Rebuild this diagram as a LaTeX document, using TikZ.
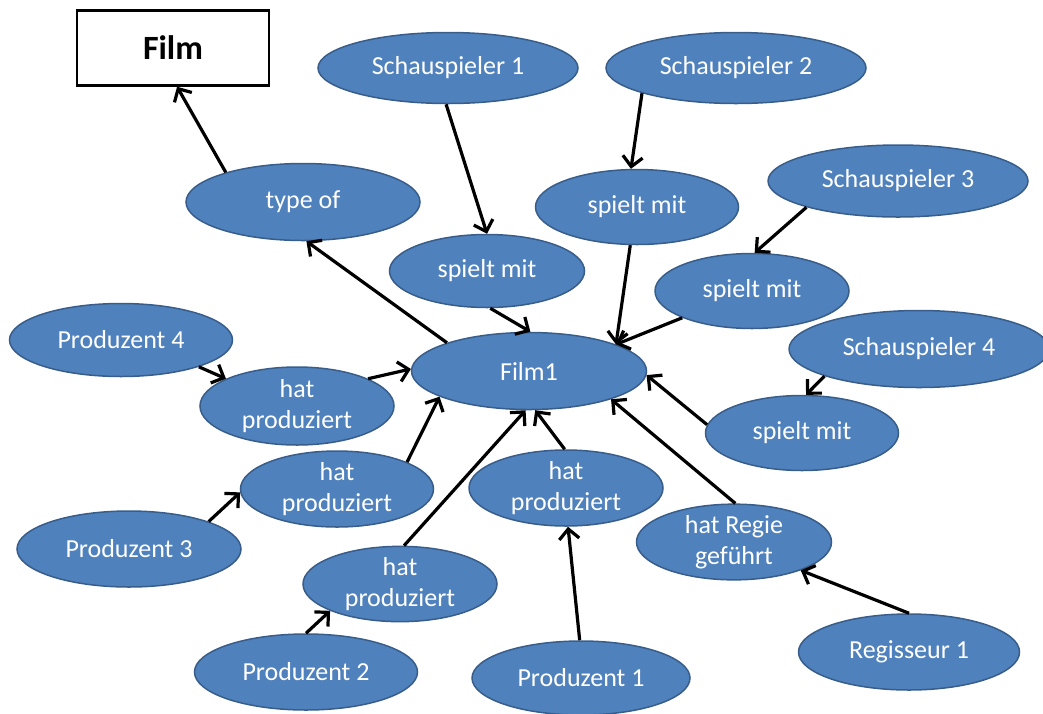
\documentclass[tikz,border=0pt]{standalone}
\usepackage{fontspec}
\setmainfont{Carlito}
\usetikzlibrary{shapes.geometric,arrows.meta}
\definecolor{ovalfill}{HTML}{4F81BD}
\definecolor{ovalline}{HTML}{385D8A}
\begin{document}
\begin{tikzpicture}[x=1pt,y=-1pt,
  oval/.style={ellipse,draw=ovalline,line width=1.5pt,fill=ovalfill,text=white,
    inner sep=0pt,align=center,
    font=\fontsize{26}{31}\selectfont},
  link/.style={line width=3.2pt,-{Straight Barb[length=10pt,width=20pt,line width=3.2pt]}},
  classbox/.style={draw=black,line width=2.5pt,fill=white,inner sep=0pt,
    minimum width=192pt,minimum height=75pt,font=\fontsize{34}{38}\selectfont\bfseries}]
\useasboundingbox (0,0) rectangle (1043,713);
% class box
\node[classbox] (film) at (173,48) {Film};
% ovals: name, centre, size
\node[oval,minimum width=260pt,minimum height=71pt] (s1) at (448,68) {Schauspieler 1};
\node[oval,minimum width=260pt,minimum height=71pt] (s2) at (736,68) {Schauspieler 2};
\node[oval,minimum width=234pt,minimum height=77pt] (typeof) at (303,202) {type of};
\node[oval,minimum width=203pt,minimum height=75pt] (sm2) at (637,207) {spielt mit};
\node[oval,minimum width=260pt,minimum height=72pt] (s3) at (898,181) {Schauspieler 3};
\node[oval,minimum width=195pt,minimum height=73pt] (sm1) at (487,271) {spielt mit};
\node[oval,minimum width=194pt,minimum height=75pt] (sm3) at (752,291) {spielt mit};
\node[oval,minimum width=223pt,minimum height=73pt] (p4) at (121,340) {Produzent 4};
\node[oval,minimum width=260pt,minimum height=77pt] (s4) at (919,349) {Schauspieler 4};
\node[oval,minimum width=235pt,minimum height=77pt] (film1) at (529,371) {Film1};
\node[oval,minimum width=194pt,minimum height=78pt] (hp4) at (297,406) {hat\\produziert};
\node[oval,minimum width=193pt,minimum height=75pt] (sm4) at (802,433) {spielt mit};
\node[oval,minimum width=193pt,minimum height=76pt] (hp3) at (337,489) {hat\\produziert};
\node[oval,minimum width=194pt,minimum height=76pt] (hp1) at (566,488) {hat\\produziert};
\node[oval,minimum width=224pt,minimum height=76pt] (p3) at (129,549) {Produzent 3};
\node[oval,minimum width=195pt,minimum height=74pt] (regie) at (734,542) {hat Regie\\geführt};
\node[oval,minimum width=194pt,minimum height=75pt] (hp2) at (400,584) {hat\\produziert};
\node[oval,minimum width=223pt,minimum height=76pt] (p2) at (306,672) {Produzent 2};
\node[oval,minimum width=218pt,minimum height=74pt] (p1) at (581,678) {Produzent 1};
\node[oval,minimum width=221pt,minimum height=76pt] (r1) at (909,652) {Regisseur 1};
% connectors (anchor angles point along the rays from each centre)
\draw[link] (typeof.159) -- (film.-84);
\draw[link] (s1.-93) -- (sm1.90);
\draw[link] (s2.-165) -- (sm2.99);
\draw[link] (s3.-164) -- (sm3.86);
\draw[link] (sm1.-85) -- (film1.88);
\draw[link] (sm2.-100) -- (film1.17);
\draw[link] (sm3.-159) -- (film1.17);
\draw[link] (film1.161) -- (typeof.-85);
\draw[link] (s4.-164) -- (sm4.84);
\draw[link] (sm4.175) -- (film1.-2);
\draw[link] (p4.-19) -- (hp4.159);
\draw[link] (hp4.21) -- (film1.179);
\draw[link] (hp3.21) -- (film1.-164);
\draw[link] (p3.19) -- (hp3.-178);
\draw[link] (hp2.84) -- (film1.-95);
\draw[link] (hp1.92) -- (film1.-81);
\draw[link] (p2.90) -- (hp2.-159);
\draw[link] (p1.92) -- (hp1.-87);
\draw[link] (regie.88) -- (film1.-19);
\draw[link] (r1.90) -- (regie.-23);
\end{tikzpicture}
\end{document}
